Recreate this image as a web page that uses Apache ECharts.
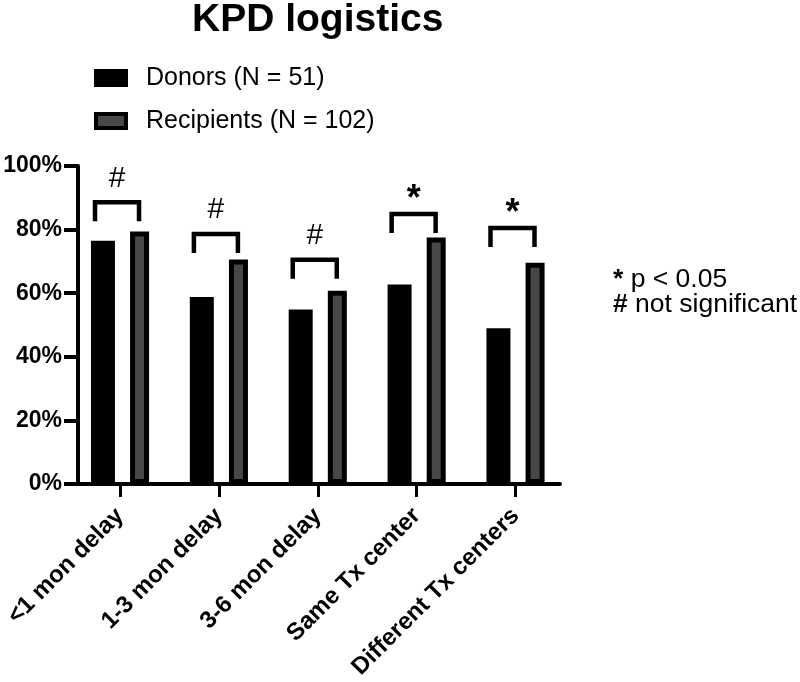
<!DOCTYPE html>
<html>
<head>
<meta charset="utf-8">
<script src="https://cdn.jsdelivr.net/npm/echarts@6/dist/echarts.min.js"></script>
<style>html,body{margin:0;padding:0;background:#fff}#c{width:800px;height:682px}</style>
</head>
<body>
<div id="c"></div>
<script>
// ---- data ----
const categories = ['<1 mon delay', '1-3 mon delay', '3-6 mon delay', 'Same Tx center', 'Different Tx centers'];
const donors = [76.5, 58.8, 54.9, 62.7, 49.0];
const recipients = [79.4, 70.6, 60.8, 77.5, 69.6];
const bracketTops = [88.6, 78.6, 70.5, 84.9, 80.5];
const sigMarks = ['#', '#', '#', '*', '*'];
const yTicks = [0, 20, 40, 60, 80, 100];
const seriesNames = ['Donors (N = 51)', 'Recipients (N = 102)'];
const noteLines = [['*', ' p < 0.05'], ['#', ' not significant']];

const FONT = '"Liberation Sans", Arial, Helvetica, sans-serif';
const GRAY = '#484848';

const chart = echarts.init(document.getElementById('c'), null, {renderer: 'canvas'});
const idx = categories.map((_, i) => i);

const option = {
  backgroundColor: '#fff',
  animation: false,
  title: {
    text: 'KPD logistics',
    left: 187, top: -4,
    textStyle: {fontFamily: FONT, fontWeight: 'bold', fontSize: 39, color: '#000'}
  },
  legend: {
    orient: 'vertical',
    left: 94, top: 63,
    padding: 0,
    itemWidth: 30, itemHeight: 14,
    itemGap: 13,
    icon: 'rect',
    textStyle: {fontFamily: FONT, fontSize: 25, color: '#000', lineHeight: 30, padding: [0, 0, 0, 15]},
    data: [
      {name: seriesNames[0], itemStyle: {color: '#000', borderColor: '#000', borderWidth: 4}},
      {name: seriesNames[1], itemStyle: {color: GRAY, borderColor: '#000', borderWidth: 4}}
    ]
  },
  grid: {left: 78, right: 240, top: 166, bottom: 196, containLabel: false},
  xAxis: {
    type: 'value',
    min: -0.425, max: 4.45,
    splitLine: {show: false},
    axisLine: {show: true, onZero: false, lineStyle: {color: '#000', width: 4}},
    axisTick: {show: true, customValues: idx, length: 13, lineStyle: {color: '#000', width: 3}},
    axisLabel: {
      customValues: idx,
      formatter: v => categories[Math.round(v)],
      rotate: 45, margin: 28,
      fontFamily: FONT, fontWeight: 'bold', fontSize: 24, color: '#000'
    }
  },
  yAxis: {
    type: 'value',
    min: 0, max: 100, interval: 20,
    splitLine: {show: false},
    axisLine: {show: true, onZero: false, lineStyle: {color: '#000', width: 4}},
    axisTick: {show: true, length: 14, lineStyle: {color: '#000', width: 4}},
    axisLabel: {
      formatter: '{value}%', margin: 16,
      fontFamily: FONT, fontWeight: 'bold', fontSize: 23, color: '#000'
    }
  },
  series: [
    {
      name: seriesNames[0], type: 'bar',
      data: donors.map((v, i) => [i, v]),
      barWidth: 24, barGap: '63%',
      itemStyle: {color: '#000'}
    },
    {
      name: seriesNames[1], type: 'bar',
      data: recipients.map((v, i) => [i, v]),
      barWidth: 19, barGap: '63%',
      itemStyle: {color: GRAY, borderColor: '#000', borderWidth: 5}
    },
    {
      type: 'custom',
      data: bracketTops.map((v, i) => [i, v]),
      silent: true,
      z: 5,
      renderItem: function (params, api) {
        const i = api.value(0);
        const c = api.coord([i, api.value(1)]);
        const x0 = c[0] - 25, x1 = c[0] + 19, y = c[1], leg = 19;
        const mark = sigMarks[i];
        const star = mark === '*';
        return {
          type: 'group',
          children: [
            {type: 'polyline', shape: {points: [[x0, y + leg], [x0, y], [x1, y], [x1, y + leg]]},
             style: {stroke: '#000', lineWidth: 4.5, fill: null, lineJoin: 'miter', lineCap: 'butt'}},
            {type: 'text', style: {text: mark, x: (x0 + x1) / 2, y: y - (star ? 13.5 : 24),
              align: 'center', verticalAlign: 'middle', fill: '#000',
              font: (star ? 'bold 36px ' : '30px ') + FONT}}
          ]
        };
      }
    }
  ],
  graphic: noteLines.map((ln, k) => ({
    type: 'text', left: 613, top: 266 + k * 25,
    style: {
      text: '{b|' + ln[0] + '}' + ln[1],
      fontFamily: FONT, fontSize: 26.5, fill: '#000',
      rich: {b: {fontFamily: FONT, fontSize: 26.5, fontWeight: 'bold', fill: '#000'}}
    }
  }))
};
chart.setOption(option);
</script>
</body>
</html>
